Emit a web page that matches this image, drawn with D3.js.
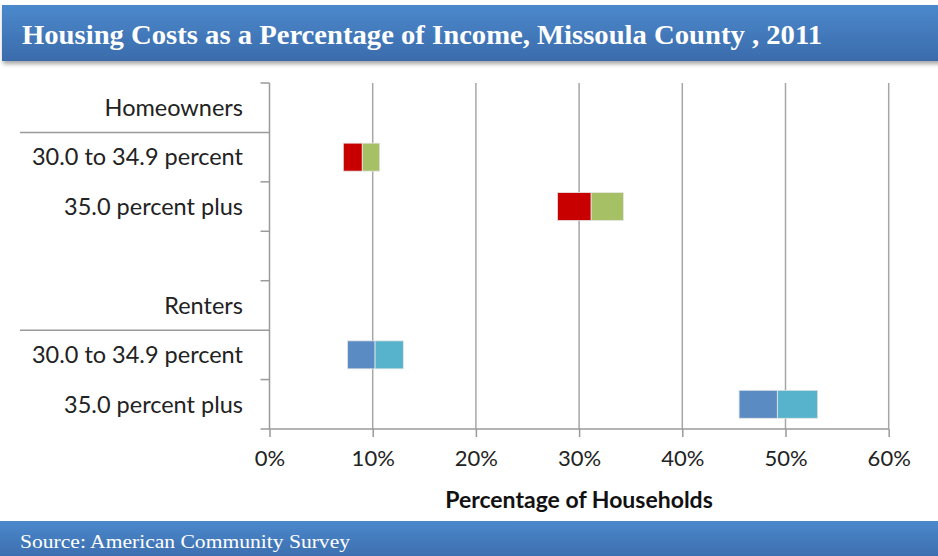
<!DOCTYPE html>
<html><head><meta charset="utf-8">
<script src="https://cdn.jsdelivr.net/npm/d3@7"></script>
<style>body{margin:0;background:#fff;}svg{display:block;}</style>
</head><body>
<svg id="c" width="938" height="556"></svg>
<script>
// ---- data ----
const categories = ["Homeowners","30.0 to 34.9 percent","35.0 percent plus","","Renters","30.0 to 34.9 percent","35.0 percent plus"];
const offsets   = [null, 7.15, 27.9, null, null, 7.55, 45.5];   // invisible base (%)
const series1   = [null, 1.84, 3.27, null, null, 2.68, 3.71];   // first visible segment (%)
const series2   = [null, 1.69, 3.13, null, null, 2.74, 3.91];   // second visible segment (%)
const groupOf   = ["", "own", "own", "", "", "rent", "rent"];
const headerRows = ["Homeowners","Renters"];
const xTicks = [0,10,20,30,40,50,60];
const titleText = "Housing Costs as a Percentage of Income, Missoula County , 2011";
const sourceText = "Source: American Community Survey";
const xTitle = "Percentage of Households";

const colors = {own:["#c80000","#a6c165"], rent:["#5b8bc3","#57b3cc"]};
const FONT = "Lato, 'Open Sans', sans-serif";

const svg = d3.select("#c");
const defs = svg.append("defs");
const g1 = defs.append("linearGradient").attr("id","bar").attr("x1",0).attr("y1",0).attr("x2",0).attr("y2",1);
g1.append("stop").attr("offset","0%").attr("stop-color","#4b89cc");
g1.append("stop").attr("offset","100%").attr("stop-color","#3b6bab");
const sh = defs.append("filter").attr("id","sh").attr("x","-5%").attr("y","-20%").attr("width","110%").attr("height","160%");
sh.append("feDropShadow").attr("dx",1).attr("dy",3).attr("stdDeviation",2).attr("flood-color","#000").attr("flood-opacity",0.35);

// title bar
svg.append("rect").attr("x",2).attr("y",5).attr("width",940).attr("height",56).attr("fill","url(#bar)").attr("filter","url(#sh)");
svg.append("text").attr("x",22).attr("y",44).attr("fill","#fff")
  .attr("font-family","Liberation Serif, serif").attr("font-weight","bold").attr("font-size",28)
  .attr("textLength",800).attr("lengthAdjust","spacingAndGlyphs").text(titleText);

// footer bar
svg.append("rect").attr("x",0).attr("y",521).attr("width",938).attr("height",40).attr("fill","url(#bar)");
svg.append("text").attr("x",20).attr("y",548).attr("fill","#fff")
  .attr("font-family","Liberation Serif, serif").attr("font-weight","normal").attr("font-size",19)
  .attr("textLength",330).attr("lengthAdjust","spacingAndGlyphs").text(sourceText);

// scales
const L=269.5, R=888.7, T=83, B=429;
const x = d3.scaleLinear().domain([0,60]).range([L,R]);
const yb = d3.scaleBand().domain(d3.range(categories.length)).range([T,B]);

const plot = svg.append("g");
// gridlines
plot.selectAll("line.grid").data(xTicks.slice(1)).join("line")
  .attr("x1",d=>x(d)).attr("x2",d=>x(d)).attr("y1",T).attr("y2",B)
  .attr("stroke","#a6a6a6").attr("stroke-width",1.5);

// bars
const rows = categories.map((c,i)=>({i,c,o:offsets[i],a:series1[i],b:series2[i],g:groupOf[i]})).filter(d=>d.o!=null);
const bh = 28;
const bars = plot.selectAll("g.row").data(rows).join("g");
bars.append("rect").attr("x",d=>x(d.o)).attr("width",d=>x(d.o+d.a)-x(d.o))
  .attr("y",d=>yb(d.i)+yb.bandwidth()/2-bh/2).attr("height",bh)
  .attr("fill",d=>colors[d.g][0]).attr("stroke","#e6e6e6").attr("stroke-width",0.8);
bars.append("rect").attr("x",d=>x(d.o+d.a)).attr("width",d=>x(d.o+d.a+d.b)-x(d.o+d.a))
  .attr("y",d=>yb(d.i)+yb.bandwidth()/2-bh/2).attr("height",bh)
  .attr("fill",d=>colors[d.g][1]).attr("stroke","#e6e6e6").attr("stroke-width",0.8);

// x axis
const xa = svg.append("g").attr("transform",`translate(0,${B})`)
  .call(d3.axisBottom(x).tickValues(xTicks).tickFormat(d=>d+"%").tickSize(8).tickPadding(13));
xa.select(".domain").attr("stroke","#9a9a9a").attr("stroke-width",1.5).attr("d",`M${L},0H${R}`);
xa.selectAll(".tick line").attr("stroke","#9a9a9a").attr("stroke-width",1.5);
xa.selectAll("text").attr("font-family",FONT).attr("font-size",22).attr("fill","#222");

// y axis
const ya = svg.append("g");
ya.append("line").attr("x1",L).attr("x2",L).attr("y1",T).attr("y2",B).attr("stroke","#9a9a9a").attr("stroke-width",1.5);
const tickYs = d3.range(categories.length+1).map(i=> i<categories.length ? yb(i) : B);
ya.selectAll("line.tk").data(tickYs.map((v,i)=>({v,i}))).join("line")
  .attr("x1",d=>{const above=categories[d.i-1]; return headerRows.includes(above)?20:L-9;})
  .attr("x2",L).attr("y1",d=>d.v).attr("y2",d=>d.v)
  .attr("stroke","#9a9a9a").attr("stroke-width",1.5);
ya.selectAll("text").data(categories).join("text")
  .attr("x",243).attr("y",(d,i)=>yb(i)+yb.bandwidth()/2).attr("dy","0.35em")
  .attr("text-anchor","end").attr("font-family",FONT).attr("font-size",23.5).attr("fill","#222")
  .text(d=>d);

// x title
svg.append("text").attr("x",579).attr("y",508).attr("text-anchor","middle")
  .attr("font-family",FONT).attr("font-weight","bold").attr("font-size",23).attr("fill","#111")
  .text(xTitle);
</script>
</body></html>
